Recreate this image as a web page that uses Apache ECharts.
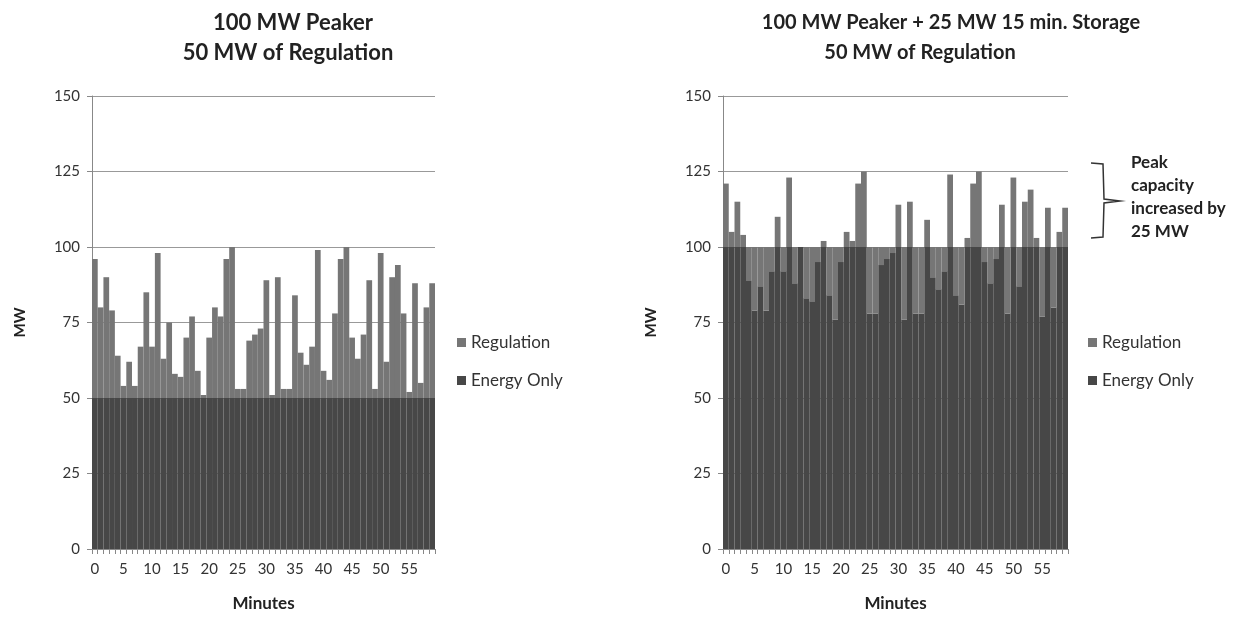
<!DOCTYPE html>
<html>
<head>
<meta charset="UTF-8">
<title>Peaker regulation</title>
<script src="https://cdn.jsdelivr.net/npm/echarts@6.0.0/dist/echarts.min.js"></script>
<style>
    *{ margin:0; padding:0; }
    html, body{ background:#fff; }
    #main{ width:1255px; height:619px; }
</style>
</head>
<body>
<div id="main"></div>
<script>
// minutes 0..59
var minutes = [];
for (var m = 0; m < 60; m++) minutes.push(String(m));

var yTicks = [0, 25, 50, 75, 100, 125, 150];

// left chart: 100 MW peaker
var leftEnergy = [50,50,50,50,50,50,50,50,50,50,50,50,50,50,50,50,50,50,50,50,
                  50,50,50,50,50,50,50,50,50,50,50,50,50,50,50,50,50,50,50,50,
                  50,50,50,50,50,50,50,50,50,50,50,50,50,50,50,50,50,50,50,50];
var leftRegulation = [46,30,40,29,14,4,12,4,17,35,17,48,13,25,8,7,20,27,9,1,
                      20,30,27,46,50,3,3,19,21,23,39,1,40,3,3,34,15,11,17,49,
                      9,6,28,46,50,20,13,21,39,3,48,12,40,44,28,2,38,5,30,38];

// right chart: peaker + 25 MW storage
var rightEnergy = [100,100,100,100,89,79,87,79,92,100,92,100,88,100,83,82,95,100,84,76,
                   95,100,100,100,100,78,78,94,96,98,100,76,100,78,78,100,90,86,92,100,
                   84,81,100,100,100,95,88,96,100,78,100,87,100,100,100,77,100,80,100,100];
var rightRegulation = [21,5,15,4,11,21,13,21,8,10,8,23,12,0,17,18,5,2,16,24,
                       5,5,2,21,25,22,22,6,4,2,14,24,15,22,22,9,10,14,8,24,
                       16,19,3,21,25,5,12,4,14,22,23,13,15,19,3,23,13,20,5,13];

var colEnergy = '#474747';
var colReg = '#767676';
var font = 'Lato';

var myChart = echarts.init(document.getElementById('main'));

function xAx(idx) {
    return {
        type: 'category', gridIndex: idx, data: minutes,
        name: 'Minutes', nameLocation: 'middle', nameGap: 46,
        nameTextStyle: { fontFamily: font, fontSize: 17, fontWeight: 'bold', color: '#222' },
        axisLine: { lineStyle: { color: '#888' } },
        axisTick: { show: true, interval: 0, length: 5, lineStyle: { color: '#888' } },
        axisLabel: { interval: 4, margin: 13, fontFamily: font, fontSize: 15, color: '#333' }
    };
}
function yAx(idx) {
    return {
        type: 'value', gridIndex: idx, min: 0, max: 150, interval: 25,
        name: 'MW', nameLocation: 'middle', nameGap: 64,
        nameTextStyle: { fontFamily: font, fontSize: 15, fontWeight: 'bold', color: '#222' },
        axisLine: { show: true, lineStyle: { color: '#888' } },
        axisTick: { show: true, length: 5, lineStyle: { color: '#888' } },
        axisLabel: { margin: 12, fontFamily: font, fontSize: 15, color: '#333' },
        splitLine: { lineStyle: { color: '#999', width: 1 } }
    };
}
function legendAt(x) {
    return {
        left: x, top: 329, orient: 'vertical', itemGap: 21,
        icon: 'rect', itemWidth: 9, itemHeight: 9,
        data: ['Regulation', 'Energy Only'],
        textStyle: { fontFamily: font, fontSize: 17, color: '#333' }
    };
}
function titleAt(text, x, y, size) {
    return {
        text: text, left: x, top: y, textAlign: 'center',
        textStyle: { fontFamily: font, fontSize: size, fontWeight: 'bold', color: '#222' }
    };
}

var option = {
    animation: false,
    backgroundColor: '#fff',
    title: [
        titleAt('100 MW Peaker', 288, 7, 22),
        titleAt('50 MW of Regulation', 283, 37, 22),
        titleAt('100 MW Peaker + 25 MW 15 min. Storage', 946, 8, 20),
        titleAt('50 MW of Regulation', 915, 38, 20)
    ],
    legend: [legendAt(452), legendAt(1083)],
    grid: [
        { left: 92, top: 96, width: 343, height: 453 },
        { left: 723, top: 96, width: 345, height: 453 }
    ],
    xAxis: [xAx(0), xAx(1)],
    yAxis: [yAx(0), yAx(1)],
    series: [
        { name: 'Energy Only', type: 'bar', stack: 'l', xAxisIndex: 0, yAxisIndex: 0,
          barCategoryGap: '0%', itemStyle: { color: colEnergy }, data: leftEnergy },
        { name: 'Regulation', type: 'bar', stack: 'l', xAxisIndex: 0, yAxisIndex: 0,
          barCategoryGap: '0%', itemStyle: { color: colReg }, data: leftRegulation },
        { name: 'Energy Only', type: 'bar', stack: 'r', xAxisIndex: 1, yAxisIndex: 1,
          barCategoryGap: '0%', itemStyle: { color: colEnergy }, data: rightEnergy },
        { name: 'Regulation', type: 'bar', stack: 'r', xAxisIndex: 1, yAxisIndex: 1,
          barCategoryGap: '0%', itemStyle: { color: colReg }, data: rightRegulation }
    ],
    graphic: [
        { type: 'polyline', silent: true,
          shape: { points: [[1091,163],[1103,164],[1104,199],[1120,201],[1104,203],[1103,237],[1091,238]] },
          style: { stroke: '#333', lineWidth: 1.5, fill: null } },
        { type: 'text', left: 1131, top: 151, silent: true,
          style: { text: 'Peak\ncapacity\nincreased by\n25 MW', fontFamily: font, fontSize: 17,
                   fontWeight: 'bold', lineHeight: 23, fill: '#222' } }
    ]
};

myChart.setOption(option);
</script>
</body>
</html>
